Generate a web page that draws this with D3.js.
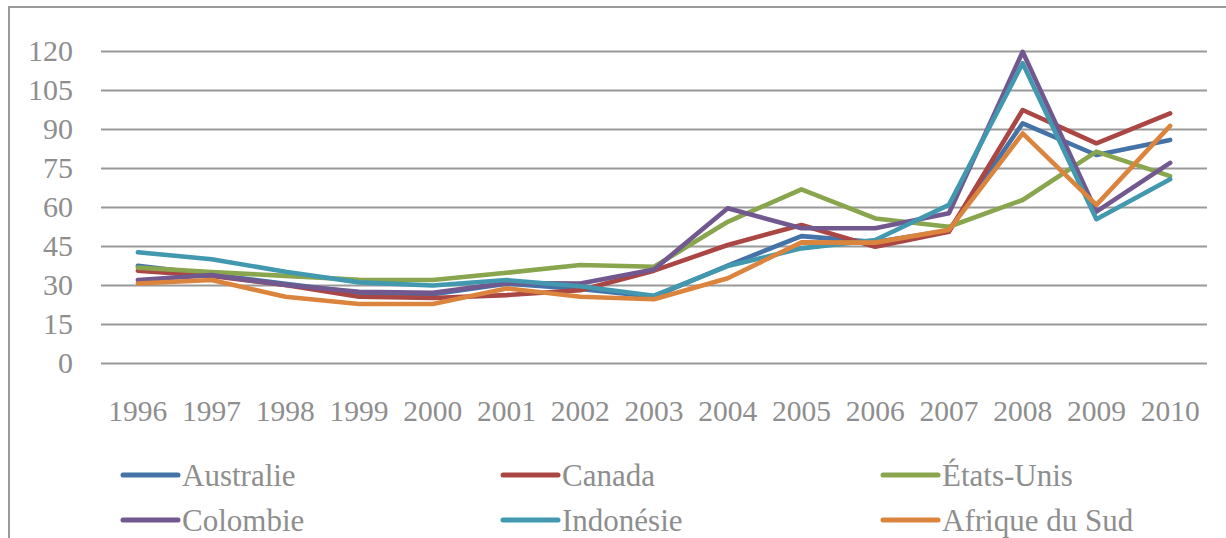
<!DOCTYPE html>
<html>
<head>
<meta charset="utf-8">
<script src="https://cdn.jsdelivr.net/npm/d3@7"></script>
<style>
  html, body { margin: 0; padding: 0; background: #fff; }
  svg { display: block; }
</style>
</head>
<body>
<svg id="chart" width="1226" height="538"></svg>
<script>
const years = ["1996","1997","1998","1999","2000","2001","2002","2003","2004","2005","2006","2007","2008","2009","2010"];
const yTicks = [0, 15, 30, 45, 60, 75, 90, 105, 120];
const seriesNames = ["Australie", "Canada", "États-Unis", "Colombie", "Indonésie", "Afrique du Sud"];
const seriesColors = ["#4572A7", "#AA4643", "#89A54E", "#71588F", "#4198AF", "#DB843D"];
const australie = [37.4, 34, 30.5, 27, 26.5, 30.5, 28.5, 25.5, 37.5, 48.8, 46.5, 51, 92.2, 80, 85.8];
const canada    = [35.5, 33.5, 30, 25.5, 25, 26.1, 28, 35.5, 45.4, 53.1, 44.7, 50.5, 97.3, 84.5, 96];
const etatsUnis = [36.7, 35, 33.5, 32, 31.9, 34.7, 37.7, 37, 54.3, 66.8, 55.6, 52.4, 62.7, 81.3, 71.9];
const colombie  = [31.9, 33.8, 30, 27.4, 27, 30.8, 30.6, 36, 59.5, 51.8, 51.8, 57.6, 119.7, 58.2, 77];
const indonesie = [42.6, 39.9, 35.1, 31, 29.8, 31.9, 29.5, 25.9, 37.3, 44.1, 47.3, 60.8, 115.3, 55.3, 70.7];
const afriqueSud = [30.6, 31.9, 25.5, 22.7, 22.7, 28.7, 25.5, 24.5, 32.6, 46.4, 46.3, 51.2, 88.3, 60.8, 91.2];
const seriesValues = [australie, canada, etatsUnis, colombie, indonesie, afriqueSud];

const FONT = '"Liberation Serif"';
const TXT = "#8e8e8e";
const svg = d3.select("#chart");
const plot = { left: 101, right: 1207, top: 51, bottom: 363 };

// outer chart border (extends past the canvas on right/bottom)
svg.append("rect")
  .attr("x", 9).attr("y", 7).attr("width", 1260).attr("height", 600)
  .attr("fill", "none").attr("stroke", "#9a9a9a").attr("stroke-width", 2);

const x = d3.scaleBand().domain(years).range([plot.left, plot.right]);
const y = d3.scaleLinear().domain([0, 120]).range([plot.bottom, plot.top]);

// gridlines + y labels
const yAxis = d3.axisLeft(y).tickValues(yTicks).tickSize(-(plot.right - plot.left)).tickPadding(28);
const gy = svg.append("g").attr("transform", `translate(${plot.left},0)`).call(yAxis);
gy.attr("font-family", null).attr("font-size", null);
gy.select(".domain").remove();
gy.selectAll(".tick line").attr("stroke", "#999999").attr("stroke-width", 2.2);
gy.selectAll(".tick text")
  .style("font-family", FONT).style("font-size", "30px").attr("fill", TXT);

// x labels
const xAxis = d3.axisBottom(x).tickSize(0).tickPadding(0);
const gx = svg.append("g").attr("transform", `translate(0,${plot.bottom})`).call(xAxis);
gx.attr("font-family", null).attr("font-size", null);
gx.select(".domain").remove();
gx.selectAll(".tick text")
  .style("font-family", FONT).style("font-size", "29.5px").attr("fill", TXT)
  .attr("y", 58).attr("dy", 0);

// lines
const line = d3.line()
  .x((d, i) => x(years[i]) + x.bandwidth() / 2)
  .y(d => y(d));

seriesValues.forEach((vals, k) => {
  svg.append("path")
    .datum(vals)
    .attr("d", line)
    .attr("fill", "none")
    .attr("stroke", seriesColors[k])
    .attr("stroke-width", 4.6)
    .attr("stroke-linejoin", "round")
    .attr("stroke-linecap", "round");
});

// legend
const legCols = [123, 503, 883];
const legRows = [475, 520];
seriesNames.forEach((name, k) => {
  const cx = legCols[k % 3], cy = legRows[Math.floor(k / 3)];
  const g = svg.append("g");
  g.append("line")
    .attr("x1", cx).attr("x2", cx + 55).attr("y1", cy).attr("y2", cy)
    .attr("stroke", seriesColors[k]).attr("stroke-width", 5).attr("stroke-linecap", "round");
  g.append("text")
    .attr("x", cx + 59).attr("y", cy + 11)
    .style("font-family", FONT).style("font-size", "31px").attr("fill", TXT)
    .text(name);
});
</script>
</body>
</html>
